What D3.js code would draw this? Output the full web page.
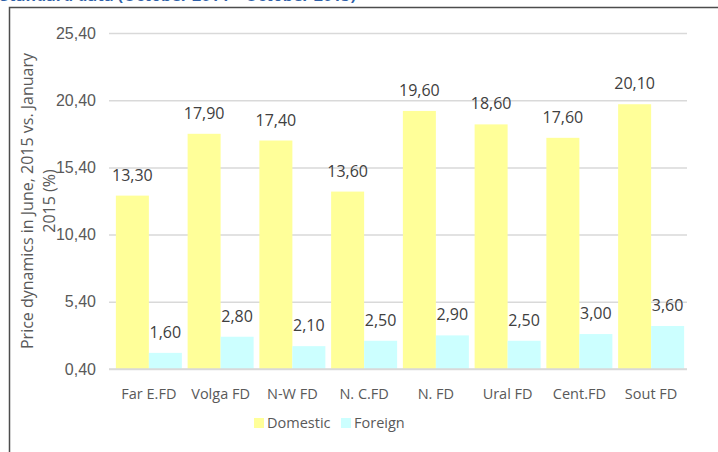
<!DOCTYPE html>
<html>
<head>
<meta charset="utf-8">
<script src="https://d3js.org/d3.v7.min.js"></script>
<style>
  body { margin: 0; background: #fff; }
  svg { display: block; font-family: "Open Sans", sans-serif; }
  .tick text { fill: #595959; font-size: 16px; }
  .val { fill: #404040; font-size: 16px; text-anchor: middle; }
  .cat { fill: #595959; font-size: 14.5px; text-anchor: middle; }
</style>
</head>
<body>
<script>
  // chart data
  var regions = ["Far E.FD", "Volga FD", "N-W FD", "N. C.FD", "N. FD", "Ural FD", "Cent.FD", "Sout FD"];
  var domestic = [13.3, 17.9, 17.4, 13.6, 19.6, 18.6, 17.6, 20.1];
  var foreign = [1.6, 2.8, 2.1, 2.5, 2.9, 2.5, 3.0, 3.6];
  var yTicks = [0.4, 5.4, 10.4, 15.4, 20.4, 25.4];
  var seriesNames = ["Domestic", "Foreign"];
  var seriesColors = ["#ffff99", "#ccffff"];

  var W = 718, H = 452;
  var svg = d3.select("body").append("svg")
      .attr("width", W)
      .attr("height", H);

  // title, cut off by the top edge as in the source image
  svg.append("text")
      .attr("x", 0)
      .attr("y", 1)
      .style("font-size", "16px")
      .style("font-weight", "bold")
      .style("fill", "#2e5fa8")
      .text("Standard data (October 2014 \u2013 October 2015)");

  // frame
  svg.append("path")
      .attr("d", "M9.5," + H + "V7.5H" + W)
      .style("fill", "none")
      .style("stroke", "#4d4d4d")
      .style("stroke-width", 1.5);

  var x0 = 113, x1 = 687, yTop = 33, yBot = 369;

  var x = d3.scaleBand()
      .domain(regions)
      .range([x0, x1])
      .paddingInner(0.08)
      .paddingOuter(0.04);

  var xs = d3.scaleBand()
      .domain(seriesNames)
      .range([0, x.bandwidth()]);

  var y = d3.scaleLinear()
      .domain([0.4, 25.4])
      .range([yBot, yTop]);

  var fmt = function(v) { return d3.format(".2f")(v).replace(".", ","); };

  // gridlines + y tick labels
  var yAxis = d3.axisLeft(y)
      .tickValues(yTicks)
      .tickFormat(fmt)
      .tickSize(-(x1 - x0 + 4))
      .tickPadding(13);

  var ga = svg.append("g")
      .attr("transform", "translate(" + (x0 - 4) + ",0)")
      .call(yAxis);
  ga.select(".domain").remove();
  ga.selectAll(".tick line")
      .style("stroke", "#d9d9d9")
      .style("stroke-width", 1.5);

  // bars
  var rows = regions.map(function(r, i) {
    return { region: r, values: [domestic[i], foreign[i]] };
  });

  var groups = svg.append("g").selectAll("g")
      .data(rows)
      .enter().append("g")
      .attr("transform", function(d) { return "translate(" + x(d.region) + ",0)"; });

  groups.selectAll("rect")
      .data(function(d) { return d.values.map(function(v, j) { return { s: seriesNames[j], v: v, j: j }; }); })
      .enter().append("rect")
      .attr("x", function(d) { return xs(d.s); })
      .attr("width", xs.bandwidth())
      .attr("y", function(d) { return y(d.v); })
      .attr("height", function(d) { return y(0.4) - y(d.v); })
      .style("fill", function(d) { return seriesColors[d.j]; });

  groups.selectAll(".val")
      .data(function(d) { return d.values.map(function(v, j) { return { s: seriesNames[j], v: v }; }); })
      .enter().append("text")
      .attr("class", "val")
      .attr("x", function(d) { return xs(d.s) + xs.bandwidth() / 2; })
      .attr("y", function(d) { return y(d.v) - 15; })
      .text(function(d) { return fmt(d.v); });

  // baseline redrawn over bars
  svg.append("line")
      .attr("x1", x0 - 4).attr("x2", x1)
      .attr("y1", y(0.4)).attr("y2", y(0.4))
      .style("stroke", "#d9d9d9")
      .style("stroke-width", 1.5);

  // category labels
  svg.append("g").selectAll("text")
      .data(regions)
      .enter().append("text")
      .attr("class", "cat")
      .attr("x", function(d) { return x(d) + x.bandwidth() / 2; })
      .attr("y", 399)
      .text(function(d) { return d; });

  // y axis title (two lines)
  var yt = svg.append("text")
      .attr("transform", "translate(33,201) rotate(-90)")
      .style("fill", "#595959")
      .style("font-size", "16px")
      .style("text-anchor", "middle");
  yt.append("tspan").attr("x", 0).attr("y", 0).text("Price dynamics in June,  2015 vs. January");
  yt.append("tspan").attr("x", 0).attr("y", 22).text("2015 (%)");

  // legend
  var legX = [254, 341];
  var leg = svg.append("g").selectAll("g")
      .data(seriesNames)
      .enter().append("g")
      .attr("transform", function(d, i) { return "translate(" + legX[i] + ",418)"; });
  leg.append("rect")
      .attr("width", 10).attr("height", 10)
      .style("fill", function(d, i) { return seriesColors[i]; });
  leg.append("text")
      .attr("x", 13).attr("y", 10)
      .style("fill", "#595959")
      .style("font-size", "14.5px")
      .text(function(d) { return d; });
</script>
</body>
</html>
